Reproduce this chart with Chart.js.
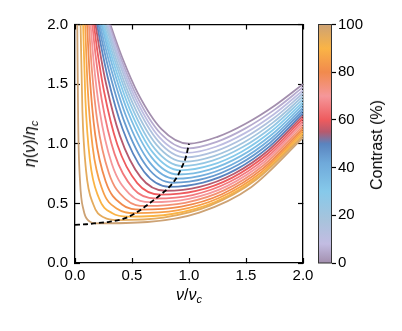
<!DOCTYPE html>
<html>
<head>
<meta charset="utf-8">
<script src="https://cdn.jsdelivr.net/npm/chart.js@4.4.1/dist/chart.umd.min.js"></script>
<style>
  html, body { margin: 0; padding: 0; background: #fff; }
  #wrap { position: relative; width: 402px; height: 331px; font-family: "Liberation Sans", Arial, sans-serif; }
  canvas { position: absolute; top: 0; }
  .lbl { position: absolute; color: #000; white-space: nowrap; line-height: 1; }
  .lbl sub { font-size: 11px; vertical-align: -3px; }
</style>
</head>
<body>
<div id="wrap">
  <canvas id="plot" width="402" height="331" style="left:0"></canvas>
  <canvas id="cbar" width="102" height="331" style="left:300px"></canvas>
  <div class="lbl" style="left:189px; top:287px; font-size:16px; transform:translateX(-50%)"><i>ν</i>/<i>ν</i><sub><i>c</i></sub></div>
  <div class="lbl" style="left:31px; top:144px; font-size:16px; transform:translate(-50%,-50%) rotate(-90deg)"><i>η</i>(<i>ν</i>)/<i>η</i><sub><i>c</i></sub></div>
  <div class="lbl" style="left:377px; top:145px; font-size:16px; transform:translate(-50%,-50%) rotate(-90deg)">Contrast (%)</div>
</div>
<script>
// axis ticks
const xTicks = [0, 0.5, 1, 1.5, 2];
const yTicks = [0, 0.5, 1, 1.5, 2];
const cbTicks = [0, 20, 40, 60, 80, 100];

// contrast of each curve (%)
const contrast = [0, 5, 10, 15, 20, 25, 30, 35, 40, 45, 50, 55, 60, 65, 70, 75, 80, 85, 90, 95, 100];

// curves: [nu/nu_c, eta/eta_c]
const c0 = [[0.31,2],[0.345,1.903],[0.414,1.723],[0.552,1.423],[0.759,1.123],[1.0,1.0],[1.25,1.058],[1.5,1.17],[1.75,1.319],[2,1.5]];
const c5 = [[0.30,2],[0.335,1.899],[0.404,1.712],[0.542,1.40],[0.749,1.088],[0.99,0.961],[1.243,1.016],[1.495,1.129],[1.748,1.284],[2,1.474]];
const c10 = [[0.29,2],[0.325,1.895],[0.394,1.701],[0.532,1.378],[0.739,1.055],[0.981,0.923],[1.236,0.975],[1.491,1.089],[1.745,1.248],[2,1.448]];
const c15 = [[0.28,2],[0.315,1.891],[0.384,1.691],[0.522,1.357],[0.73,1.022],[0.972,0.886],[1.229,0.936],[1.486,1.05],[1.743,1.214],[2,1.423]];
const c20 = [[0.268,2],[0.303,1.888],[0.371,1.68],[0.509,1.334],[0.716,0.99],[0.957,0.849],[1.218,0.896],[1.479,1.01],[1.739,1.179],[2,1.398]];
const c25 = [[0.256,2],[0.29,1.883],[0.359,1.669],[0.496,1.312],[0.701,0.957],[0.941,0.813],[1.206,0.858],[1.471,0.972],[1.735,1.145],[2,1.374]];
const c30 = [[0.244,2],[0.278,1.879],[0.346,1.656],[0.482,1.287],[0.686,0.923],[0.924,0.777],[1.193,0.82],[1.462,0.933],[1.731,1.111],[2,1.349]];
const c35 = [[0.232,2],[0.266,1.873],[0.333,1.64],[0.468,1.258],[0.67,0.888],[0.906,0.742],[1.18,0.783],[1.453,0.896],[1.727,1.078],[2,1.326]];
const c40 = [[0.219,2],[0.252,1.865],[0.319,1.619],[0.451,1.224],[0.65,0.85],[0.882,0.707],[1.162,0.746],[1.441,0.858],[1.721,1.044],[2,1.302]];
const c45 = [[0.206,2],[0.239,1.853],[0.304,1.591],[0.434,1.181],[0.629,0.809],[0.856,0.673],[1.142,0.709],[1.428,0.822],[1.714,1.011],[2,1.279]];
const c50 = [[0.193,2],[0.225,1.837],[0.288,1.554],[0.416,1.128],[0.606,0.765],[0.829,0.639],[1.122,0.674],[1.415,0.785],[1.707,0.978],[2,1.256]];
const c55 = [[0.18,2],[0.211,1.815],[0.272,1.505],[0.394,1.066],[0.577,0.718],[0.79,0.606],[1.093,0.639],[1.395,0.749],[1.698,0.946],[2,1.234]];
const c60 = [[0.166,2],[0.195,1.785],[0.254,1.442],[0.371,0.993],[0.546,0.67],[0.751,0.573],[1.063,0.604],[1.376,0.714],[1.688,0.914],[2,1.212]];
const c65 = [[0.152,2],[0.18,1.746],[0.235,1.366],[0.347,0.915],[0.513,0.622],[0.708,0.541],[1.031,0.57],[1.354,0.679],[1.677,0.882],[2,1.19]];
const c70 = [[0.137,2],[0.163,1.695],[0.216,1.277],[0.322,0.834],[0.48,0.577],[0.665,0.51],[0.999,0.538],[1.333,0.645],[1.666,0.851],[2,1.169]];
const c75 = [[0.122,2],[0.147,1.633],[0.197,1.179],[0.297,0.755],[0.446,0.533],[0.621,0.479],[0.966,0.505],[1.311,0.611],[1.655,0.82],[2,1.148]];
const c80 = [[0.106,2],[0.13,1.558],[0.177,1.076],[0.271,0.679],[0.412,0.491],[0.576,0.448],[0.932,0.473],[1.288,0.577],[1.644,0.789],[2,1.127]];
const c85 = [[0.089,2],[0.111,1.472],[0.155,0.972],[0.242,0.61],[0.373,0.453],[0.526,0.418],[0.895,0.441],[1.263,0.545],[1.632,0.759],[2,1.107]];
const c90 = [[0.071,2],[0.091,1.376],[0.13,0.871],[0.209,0.547],[0.328,0.417],[0.466,0.389],[0.85,0.411],[1.233,0.513],[1.617,0.73],[2,1.088]];
const c95 = [[0.049,2],[0.065,1.274],[0.097,0.775],[0.161,0.49],[0.256,0.381],[0.368,0.36],[0.776,0.381],[1.184,0.481],[1.592,0.7],[2,1.068]];
const c100 = [[0.02,2],[0.028,1.169],[0.044,0.687],[0.076,0.44],[0.124,0.351],[0.18,0.333],[0.635,0.344],[1.09,0.423],[1.545,0.636],[2,1.05]];

// dashed line through the minima
const minima = [[0,0.32],[0.1,0.325],[0.2,0.335],[0.3,0.345],[0.44,0.376],[0.55,0.43],[0.69,0.527],[0.76,0.58],[0.83,0.64],[0.9,0.73],[0.94,0.81],[0.97,0.88],[1.0,1.0]];

// colour map of the contrast bar
const cmapValues = [0, 8, 18, 30, 42, 50, 55, 60, 70, 80, 90, 100];
const cmapColors = ['#a38fae', '#c2bce2', '#a7c3dc', '#86c9ea', '#6fa9da', '#5a84bf', '#b65a6e', '#ee5b5e', '#f5979a', '#f18a4d', '#fab446', '#cda274'];

const curves = [c0, c5, c10, c15, c20, c25, c30, c35, c40, c45, c50, c55, c60, c65, c70, c75, c80, c85, c90, c95, c100];

function hexRgb(h) {
    return [1, 3, 5].map(i => parseInt(h.substr(i, 2), 16));
}

function cmap(v) {
    for (let k = 1; k < cmapValues.length; k++) {
        if (v <= cmapValues[k]) {
            const f = (v - cmapValues[k - 1]) / (cmapValues[k] - cmapValues[k - 1]);
            const a = hexRgb(cmapColors[k - 1]), b = hexRgb(cmapColors[k]);
            const c = a.map((x, j) => Math.round(x + (b[j] - x) * f));
            return "rgb(" + c.join(",") + ")";
        }
    }
    return cmapColors[cmapColors.length - 1];
}

const family = '"Liberation Sans", Arial, sans-serif';
Chart.defaults.font.family = family;
Chart.defaults.color = "#000";

const toXY = pts => pts.map(p => ({ x: p[0], y: p[1] }));

const datasets = curves.map((pts, i) => ({
    data: toXY(pts),
    borderColor: cmap(contrast[i]),
    borderWidth: 1.8,
    pointRadius: 0,
    showLine: true,
    fill: false,
    cubicInterpolationMode: "monotone",
    order: 100 - i
}));
datasets.push({
    data: toXY(minima),
    borderColor: "#000",
    borderWidth: 1.8,
    borderDash: [5, 3],
    pointRadius: 0,
    showLine: true,
    fill: false,
    cubicInterpolationMode: "monotone",
    order: -1
});

function frameAxis(position, ticks, size, showLabels, pad) {
    const horiz = position === "top" || position === "bottom";
    return {
        type: "linear",
        position: position,
        min: 0,
        max: 2,
        afterBuildTicks: s => { s.ticks = ticks.map(v => ({ value: v })); },
        afterFit: s => { if (horiz) s.height = size; else s.width = size; },
        ticks: {
            display: showLabels,
            font: { size: 15 },
            color: "#000",
            padding: pad,
            callback: v => v.toFixed(1)
        },
        grid: {
            drawOnChartArea: false,
            drawTicks: true,
            tickLength: -5,
            tickColor: "#000",
            tickWidth: 1.2
        },
        border: { display: true, color: "#000", width: 1.3 }
    };
}

new Chart(document.getElementById("plot"), {
    type: "scatter",
    data: { datasets: datasets },
    options: {
        responsive: false,
        animation: false,
        events: [],
        layout: { padding: 0 },
        plugins: { legend: { display: false }, tooltip: { enabled: false } },
        scales: {
            x: frameAxis("bottom", xTicks, 68, true, 9),
            y: frameAxis("left", yTicks, 75, true, 12),
            x2: frameAxis("top", xTicks, 24.5, false, 0),
            y2: frameAxis("right", yTicks, 99, false, 0)
        }
    }
});

const colorbarFill = {
    id: "colorbarFill",
    beforeDatasetsDraw(chart) {
        const { ctx, chartArea: a, scales: { y } } = chart;
        const g = ctx.createLinearGradient(0, y.getPixelForValue(0), 0, y.getPixelForValue(100));
        cmapValues.forEach((v, k) => g.addColorStop(v / 100, cmapColors[k]));
        ctx.save();
        ctx.fillStyle = g;
        ctx.fillRect(a.left, a.top, a.right - a.left, a.bottom - a.top);
        ctx.strokeStyle = "#333";
        ctx.lineWidth = 1;
        ctx.strokeRect(a.left + 0.5, a.top, a.right - a.left - 1, a.bottom - a.top);
        ctx.restore();
    }
};

new Chart(document.getElementById("cbar"), {
    type: "scatter",
    data: { datasets: [{ data: [] }] },
    options: {
        responsive: false,
        animation: false,
        events: [],
        layout: { padding: { left: 18, top: 24.5, bottom: 68, right: 0 } },
        plugins: { legend: { display: false }, tooltip: { enabled: false } },
        scales: {
            x: { display: false, min: 0, max: 1 },
            y: {
                position: "right",
                min: 0,
                max: 100,
                afterBuildTicks: s => { s.ticks = cbTicks.map(v => ({ value: v })); },
                afterFit: s => { s.width = 70; },
                ticks: { font: { size: 15 }, color: "#000", padding: 2 },
                grid: { drawOnChartArea: false, drawTicks: true, tickLength: 4, tickColor: "#000", tickWidth: 1.2 },
                border: { display: false }
            }
        }
    },
    plugins: [colorbarFill]
});
</script>
</body>
</html>
